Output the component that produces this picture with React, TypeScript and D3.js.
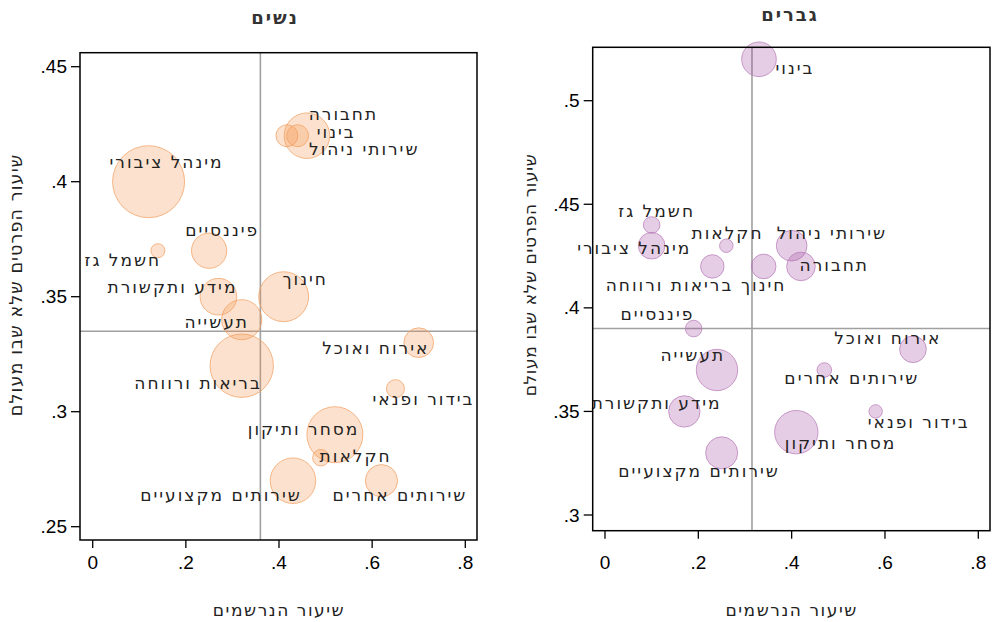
import React from "react";
import * as d3 from "d3";

// ---------- Data ----------
const womenCategories = [
  "מינהל ציבורי", "פיננסיים", "חשמל גז", "מידע ותקשורת", "תעשייה", "חינוך",
  "אירוח ואוכל", "בריאות ורווחה", "בידור ופנאי", "מסחר ותיקון", "חקלאות",
  "שירותים מקצועיים", "שירותים אחרים", "תחבורה", "בינוי", "שירותי ניהול",
];
const womenX = [0.12, 0.25, 0.14, 0.27, 0.32, 0.41, 0.70, 0.32, 0.65, 0.52, 0.49, 0.43, 0.62, 0.417, 0.44, 0.46];
const womenY = [0.40, 0.37, 0.37, 0.35, 0.34, 0.35, 0.33, 0.32, 0.31, 0.29, 0.28, 0.27, 0.27, 0.42, 0.42, 0.42];
const womenSize = [100, 24, 3.8, 26, 31, 48, 17, 77.5, 6.3, 60.5, 5.3, 40, 20, 9.3, 9.3, 40];

const menCategories = [
  "בינוי", "חשמל גז", "מינהל ציבורי", "חקלאות", "שירותי ניהול", "תחבורה",
  "חינוך", "בריאות ורווחה", "פיננסיים", "אירוח ואוכל", "תעשייה",
  "שירותים אחרים", "מידע ותקשורת", "בידור ופנאי", "מסחר ותיקון", "שירותים מקצועיים",
];
const menX = [0.33, 0.10, 0.10, 0.26, 0.40, 0.42, 0.34, 0.23, 0.19, 0.66, 0.24, 0.47, 0.17, 0.58, 0.41, 0.25];
const menY = [0.52, 0.44, 0.43, 0.43, 0.43, 0.42, 0.42, 0.42, 0.39, 0.38, 0.37, 0.37, 0.35, 0.35, 0.34, 0.33];
const menSize = [23.1, 5.3, 13.7, 3.5, 18.1, 15.8, 11.7, 10.6, 5.3, 13.7, 33, 4.1, 19, 3.5, 36.3, 19.8];

const xTicks = [0, 0.2, 0.4, 0.6, 0.8];
const womenYTicks = [0.25, 0.3, 0.35, 0.4, 0.45];
const menYTicks = [0.3, 0.35, 0.4, 0.45, 0.5];
const womenRefX = 0.36;
const womenRefY = 0.335;
const menRefX = 0.315;
const menRefY = 0.39;

const titleWomen = "נשים";
const titleMen = "גברים";
const xTitle = "שיעור הנרשמים";
const yTitle = "שיעור הפרטים שלא שבו מעולם";

// ---------- Label placement (pixel offsets from marker centre) ----------
const womenLabelOffsets: [number, number][] = [
  [18, -20], [13, -21], [-35, 9], [-46, -10], [-25, 2], [21.5, -18],
  [-43, 5], [-43.7, 17.6], [28, 10], [-31.3, -5.7], [34.7, -1.3],
  [-72, 14], [18.5, 14], [56.5, -21.4], [38.6, -3.4], [57.3, 13.3],
];
const menLabelOffsets: [number, number][] = [
  [36, 9], [5, -13.6], [-17.4, 2.3], [1.2, -12.4], [40.3, -12.4], [33.3, -1],
  [0, 19], [-42.8, 19], [-36.3, -14.3], [-25.2, -11.7], [-24.2, -15],
  [27.5, 7.7], [-27.7, -8.3], [43, 10.7], [44.3, 11], [-22.6, 18],
];

const HEB = "'DejaVu Sans', sans-serif";
const NUM = "'Liberation Sans', Arial, sans-serif";

const rScale = d3.scaleSqrt().domain([0, 100]).range([0, 36]);

type PanelProps = {
  title: string;
  cats: string[];
  xs: number[];
  ys: number[];
  sizes: number[];
  offsets: [number, number][];
  yTicks: number[];
  refX: number;
  refY: number;
  frame: { x0: number; x1: number; y0: number; y1: number };
  xRange: [number, number];
  yDomain: [number, number];
  yRange: [number, number];
  titlePos: [number, number];
  yTitle: { x: number; y: number; size: number; spacing: number };
  fill: string;
  stroke: string;
};

const fmt = (v: number) => {
  if (v === 0) return "0";
  return d3.format("")(v).replace(/^0/, "");
};

function Panel(p: PanelProps) {
  const x = d3.scaleLinear().domain([0, 0.8]).range(p.xRange);
  const y = d3.scaleLinear().domain(p.yDomain).range(p.yRange);
  const { x0, x1, y0, y1 } = p.frame;
  const order = d3.range(p.cats.length).sort((a, b) => p.sizes[b] - p.sizes[a]);
  const xTitleX = (x(0) + x(0.8)) / 2;
  return (
    <g>
      <text x={p.titlePos[0]} y={p.titlePos[1]} textAnchor="middle" dominantBaseline="central"
        fontFamily={HEB} fontWeight="bold" fontSize={18} letterSpacing={2} fill="#333">{p.title}</text>
      {/* reference lines */}
      <line x1={x(p.refX)} x2={x(p.refX)} y1={y0} y2={y1} stroke="#a0a0a0" strokeWidth={1.6} />
      <line x1={x0} x2={x1} y1={y(p.refY)} y2={y(p.refY)} stroke="#a0a0a0" strokeWidth={1.6} />
      {/* bubbles */}
      {order.map((i) => (
        <circle key={i} cx={x(p.xs[i])} cy={y(p.ys[i])} r={rScale(p.sizes[i])}
          fill={p.fill} fillOpacity={0.28} stroke={p.stroke} strokeOpacity={0.75} strokeWidth={1} />
      ))}
      {/* labels */}
      {p.cats.map((c, i) => (
        <text key={"l" + i} x={x(p.xs[i]) + p.offsets[i][0]} y={y(p.ys[i]) + p.offsets[i][1]}
          textAnchor="middle" dominantBaseline="central" fontFamily={HEB} fontSize={17}
          letterSpacing={2} fill="#222">{c}</text>
      ))}
      {/* frame */}
      <rect x={x0} y={y0} width={x1 - x0} height={y1 - y0} fill="none" stroke="#000" strokeWidth={1.5} />
      {/* y ticks */}
      {p.yTicks.map((t) => (
        <g key={"yt" + t}>
          <line x1={x0 - 9} x2={x0} y1={y(t)} y2={y(t)} stroke="#000" strokeWidth={1.3} />
          <text x={x0 - 13} y={y(t)} textAnchor="end" dominantBaseline="central" fontFamily={NUM} fontSize={19} fill="#000">{fmt(t)}</text>
        </g>
      ))}
      {/* x ticks */}
      {xTicks.map((t) => (
        <g key={"xt" + t}>
          <line x1={x(t)} x2={x(t)} y1={y1} y2={y1 + 8} stroke="#000" strokeWidth={1.3} />
          <text x={x(t)} y={562.5} textAnchor="middle" dominantBaseline="central" fontFamily={NUM} fontSize={19} fill="#000">{fmt(t)}</text>
        </g>
      ))}
      <text x={xTitleX} y={610} textAnchor="middle" dominantBaseline="central" fontFamily={HEB} fontSize={17}
        letterSpacing={1.55} fill="#222">{xTitle}</text>
      <text transform={`translate(${p.yTitle.x},${p.yTitle.y}) rotate(-90)`} textAnchor="middle" dominantBaseline="central"
        fontFamily={HEB} fontSize={p.yTitle.size} letterSpacing={p.yTitle.spacing} fill="#222">{yTitle}</text>
    </g>
  );
}

export default function App() {
  return (
    <svg width={993} height={622} style={{ position: "absolute", left: 0, top: 0, background: "#fff" }}>
      <rect x={0} y={0} width={993} height={622} fill="#fff" />
      <Panel title={titleWomen} cats={womenCategories} xs={womenX} ys={womenY} sizes={womenSize}
        offsets={womenLabelOffsets} yTicks={womenYTicks} refX={womenRefX} refY={womenRefY}
        frame={{ x0: 80, x1: 477, y0: 52.7, y1: 540 }} xRange={[92.7, 465.3]}
        yDomain={[0.25, 0.45]} yRange={[526.7, 66.7]} titlePos={[275, 17]}
        yTitle={{ x: 16, y: 285, size: 17.5, spacing: 1.1 }}
        fill="rgb(245,150,80)" stroke="rgb(242,160,100)" />
      <Panel title={titleMen} cats={menCategories} xs={menX} ys={menY} sizes={menSize}
        offsets={menLabelOffsets} yTicks={menYTicks} refX={menRefX} refY={menRefY}
        frame={{ x0: 592.7, x1: 990, y0: 47.3, y1: 530.7 }} xRange={[605, 978.3]}
        yDomain={[0.3, 0.5]} yRange={[515, 100.7]} titlePos={[790, 14]}
        yTitle={{ x: 530, y: 275, size: 17, spacing: 0.6 }}
        fill="rgb(160,80,160)" stroke="rgb(185,125,185)" />
    </svg>
  );
}
